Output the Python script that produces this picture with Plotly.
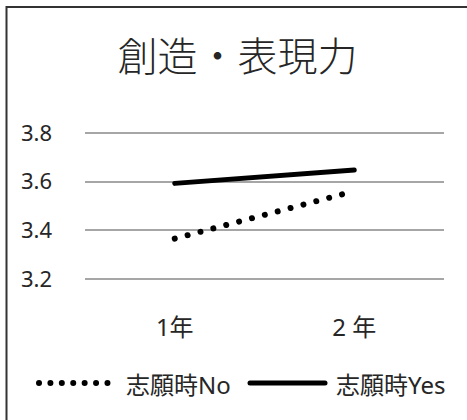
import plotly.graph_objects as go

# ---- data ----
categories = ["1年", "2 年"]
series_names = ["志願時No", "志願時Yes"]
values_no = [3.366, 3.561]
values_yes = [3.593, 3.648]
y_ticks = [3.2, 3.4, 3.6, 3.8]
y_tick_labels = ["3.2", "3.4", "3.6", "3.8"]
title_text = "創造・表現力"

W, H = 467, 420
ML, MR, MT, MB = 85, 23, 131, 139
PW, PH = W - ML - MR, H - MT - MB

def px_x(x):
    return (x - ML) / PW

def px_y(y):
    return 1 - (y - MT) / PH

FONT = "Noto Sans, Noto Sans CJK JP, sans-serif"
TXT = "#262626"

fig = go.Figure()
fig.add_trace(go.Scatter(
    x=categories, y=values_no, mode="lines", name=series_names[0],
    line=dict(color="black", width=5, dash="5px,8px"), showlegend=False))
fig.add_trace(go.Scatter(
    x=categories, y=values_yes, mode="lines", name=series_names[1],
    line=dict(color="black", width=5), showlegend=False))

shapes = [
    # outer frame (top and left)
    dict(type="line", xref="paper", yref="paper", x0=px_x(6.5), x1=px_x(470),
         y0=px_y(7), y1=px_y(7), line=dict(color="#333333", width=2)),
    dict(type="line", xref="paper", yref="paper", x0=px_x(6.5), x1=px_x(6.5),
         y0=px_y(6), y1=px_y(425), line=dict(color="#333333", width=2)),
    # legend symbols
    dict(type="line", xref="paper", yref="paper", x0=px_x(39), x1=px_x(107.5),
         y0=px_y(383), y1=px_y(383),
         line=dict(color="black", width=5, dash="5px,7px")),
    dict(type="line", xref="paper", yref="paper", x0=px_x(250), x1=px_x(325),
         y0=px_y(383), y1=px_y(383), line=dict(color="black", width=5)),
]

annotations = [
    dict(text=series_names[0], xref="paper", yref="paper", x=px_x(124), y=px_y(384),
         xanchor="left", yanchor="middle", showarrow=False,
         font=dict(family=FONT, size=24, color=TXT)),
    dict(text=series_names[1], xref="paper", yref="paper", x=px_x(334), y=px_y(384),
         xanchor="left", yanchor="middle", showarrow=False,
         font=dict(family=FONT, size=24, color=TXT)),
]

fig.update_layout(
    width=W, height=H,
    margin=dict(l=ML, r=MR, t=MT, b=MB),
    paper_bgcolor="white", plot_bgcolor="white",
    title=dict(text=title_text, x=237.5 / W, xanchor="center",
               y=1 - 57 / H, yanchor="middle",
               font=dict(family="Noto Sans CJK JP, sans-serif", size=40,
                         color=TXT, weight=300)),
    xaxis=dict(type="category", range=[-0.5, 1.5], showgrid=False, showline=False,
               zeroline=False, ticks="", ticklabelstandoff=30,
               tickfont=dict(family=FONT, size=24, color=TXT)),
    yaxis=dict(range=[3.1918, 3.8082], tickvals=y_ticks, ticktext=y_tick_labels,
               showgrid=True, gridcolor="#a6a6a6", gridwidth=1.5,
               zeroline=False, showline=False, ticks="", ticklabelstandoff=32,
               tickfont=dict(family=FONT, size=22, color=TXT)),
    shapes=shapes, annotations=annotations,
    showlegend=False,
)

post = """
(function(){
  var gd = document.getElementById('{plot_id}');
  var lines = gd.querySelectorAll('.scatterlayer .trace .js-line');
  lines.forEach(function(p, i){
    p.style.strokeLinecap = 'round';
    if (i === 0) { p.style.strokeWidth = '6px'; p.style.strokeDasharray = '0.01px,13.3px'; }
  });
  var sh = gd.querySelectorAll('.shapelayer path');
  sh.forEach(function(p, i){
    if (i === 2) { p.style.strokeLinecap = 'round'; p.style.strokeWidth = '6px';
                   p.style.strokeDasharray = '0.01px,11.4px'; }
    if (i === 3) { p.style.strokeLinecap = 'round'; }
  });
})();
"""

fig.write_html("out.html", post_script=post)
